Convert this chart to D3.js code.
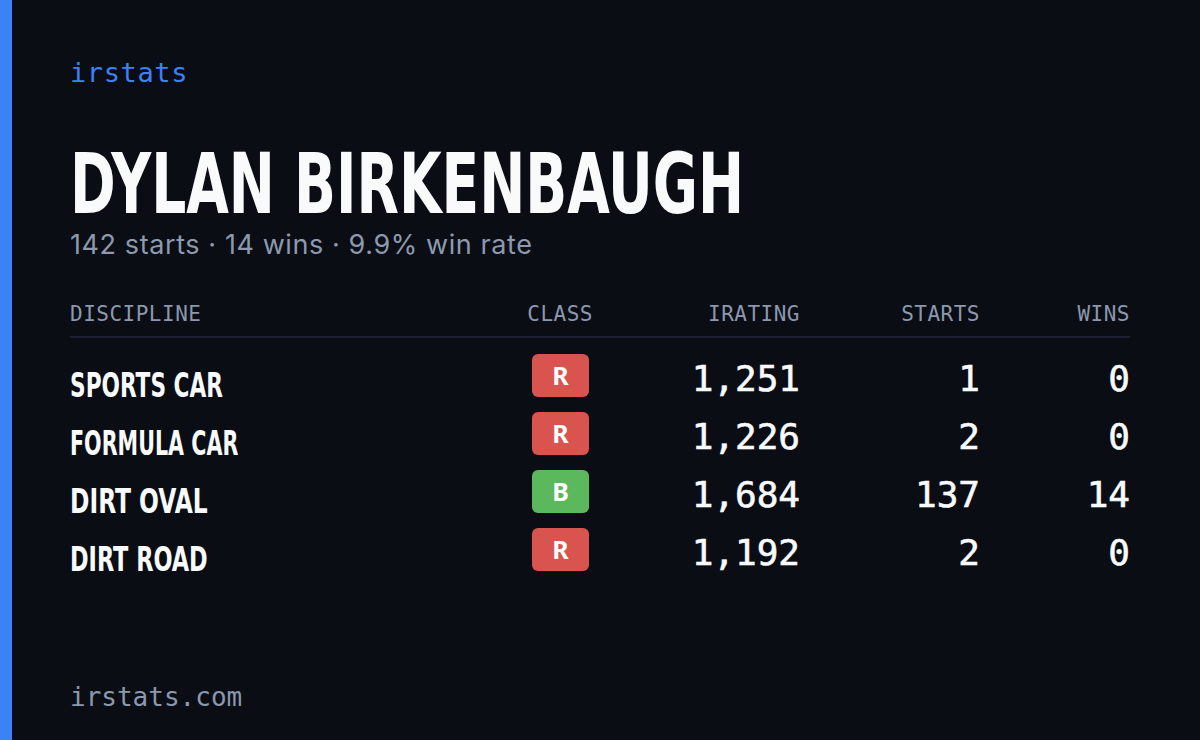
<!DOCTYPE html>
<html><head><meta charset="utf-8">
<script src="https://cdn.jsdelivr.net/npm/d3@7"></script>
<style>body{margin:0;background:#0a0d14}</style>
</head><body>
<svg id="card" width="1200" height="740"></svg>
<script>
const playerName = "DYLAN BIRKENBAUGH";
const summary = "142 starts · 14 wins · 9.9% win rate";
const columns = ["DISCIPLINE", "CLASS", "IRATING", "STARTS", "WINS"];
const disciplines = ["SPORTS CAR", "FORMULA CAR", "DIRT OVAL", "DIRT ROAD"];
const classes = ["R", "R", "B", "R"];
const iratings = [1251, 1226, 1684, 1192];
const starts = [1, 2, 137, 2];
const wins = [0, 0, 14, 0];

const svg = d3.select("#card");
const cond = "'Liberation Sans Narrow', 'DejaVu Sans Condensed', sans-serif";
const mono = "'DejaVu Sans Mono', 'Liberation Mono', monospace";
const classColor = d3.scaleOrdinal().domain(["R", "B"]).range(["#d9534f", "#5cb85c"]);

svg.append("rect").attr("width", 1200).attr("height", 740).attr("fill", "#0a0d14");
svg.append("rect").attr("width", 12).attr("height", 740).attr("fill", "#3b82f6");

svg.append("text").attr("x", 70).attr("y", 82).text("irstats")
    .style("font", `27px ${mono}`).style("letter-spacing", "0.6px").attr("fill", "#3b82f6");
svg.append("text").attr("x", 70).attr("y", 213).text(playerName)
    .attr("textLength", 674).attr("lengthAdjust", "spacingAndGlyphs")
    .style("font", `bold 84px ${cond}`).attr("fill", "#f8fafc");
svg.append("text").attr("x", 70).attr("y", 254).text(summary)
    .attr("textLength", 462).attr("lengthAdjust", "spacing")
    .style("font", `27px 'Inter', 'Noto Sans', sans-serif`).attr("fill", "#8d99ae");

// columns: x = anchor position
const colX = d3.scaleOrdinal().domain(columns).range([70, 593, 800, 980, 1130]);
const colAnchor = c => c === "DISCIPLINE" ? "start" : "end";
svg.append("g").selectAll("text").data(columns).join("text")
    .attr("x", colX).attr("y", 321).attr("text-anchor", colAnchor).text(d => d)
    .style("font", `21px ${mono}`).style("letter-spacing", "0.5px").attr("fill", "#8b98ad");
svg.append("line").attr("x1", 70).attr("x2", 1130).attr("y1", 337).attr("y2", 337)
    .attr("stroke", "#1c2130").attr("stroke-width", 2);

const y = d3.scaleBand().domain(d3.range(disciplines.length)).range([354, 586]);
const rows = svg.append("g").selectAll("g").data(disciplines).join("g")
    .attr("transform", (d, i) => `translate(0,${y(i)})`);
rows.append("text").attr("x", 70).attr("y", 43).text(d => d)
    .style("font", `bold 33px ${cond}`).attr("fill", "#f8fafc")
    .attr("textLength", (d) => d.length * 15.3).attr("lengthAdjust", "spacingAndGlyphs");
rows.append("rect").attr("x", 532).attr("width", 57).attr("height", 43).attr("rx", 6)
    .attr("fill", (d, i) => classColor(classes[i]));
rows.append("text").attr("x", 560.5).attr("y", 31).attr("text-anchor", "middle")
    .text((d, i) => classes[i]).style("font", `bold 25px 'Noto Sans', sans-serif`).attr("fill", "#fff");
const fmt = d3.format(",");
[["IRATING", iratings], ["STARTS", starts], ["WINS", wins]].forEach(([c, arr]) => {
    rows.append("text").attr("x", colX(c)).attr("y", 37).attr("text-anchor", "end")
        .text((d, i) => fmt(arr[i])).style("font", `36px ${mono}`)
        .attr("fill", "#f8fafc").attr("stroke", "#f8fafc").attr("stroke-width", 0.6);
});

svg.append("text").attr("x", 70).attr("y", 706).text("irstats.com")
    .style("font", `26px ${mono}`).attr("fill", "#8b98ad");
</script>
</body></html>
